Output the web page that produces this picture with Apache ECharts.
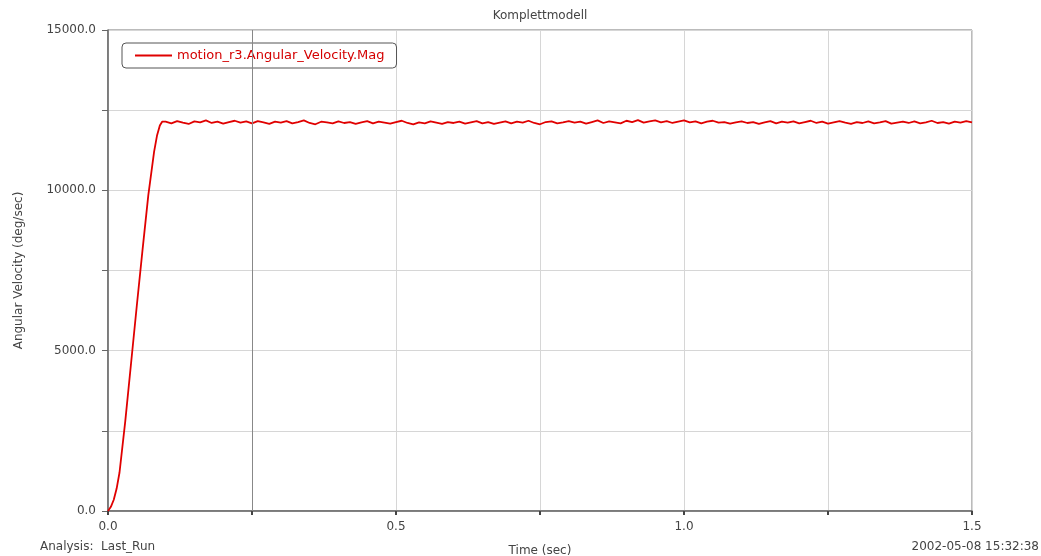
<!DOCTYPE html>
<html>
<head>
<meta charset="utf-8">
<script src="https://cdn.jsdelivr.net/npm/echarts@6/dist/echarts.min.js"></script>
<style>
  html, body { margin: 0; padding: 0; background: #fff; }
  #chart { width: 1041px; height: 556px; }
</style>
</head>
<body>
<div id="chart"></div>
<script>
// ramp-up part
const rampTimes = [0, 0.005, 0.01, 0.015, 0.02, 0.03, 0.04, 0.05, 0.06, 0.07, 0.08, 0.085, 0.09, 0.094];
const rampValues = [0, 130, 350, 700, 1200, 2800, 4600, 6400, 8150, 9850, 11200, 11700, 12020, 12140];

// steady part, one sample every 0.01 s from 0.10 to 1.50
const flatStart = 0.10;
const flatStep = 0.01;
const flatValues = [
  12140, 12090, 12160, 12110, 12070, 12150, 12120, 12180, 12100, 12140,
  12080, 12130, 12170, 12110, 12150, 12090, 12160, 12120, 12070, 12140,
  12110, 12160, 12090, 12130, 12180, 12100, 12060, 12140, 12120, 12090,
  12150, 12100, 12130, 12070, 12120, 12160, 12090, 12140, 12110, 12080,
  12130, 12170, 12100, 12060, 12120, 12090, 12150, 12110, 12070, 12130,
  12100, 12140, 12080, 12120, 12160, 12090, 12130, 12070, 12110, 12150,
  12090, 12140, 12110, 12170, 12100, 12060, 12130, 12150, 12090, 12120,
  12160, 12110, 12140, 12080, 12130, 12180, 12100, 12150, 12120, 12090,
  12170, 12130, 12190, 12110, 12150, 12180, 12120, 12160, 12100, 12140,
  12180, 12120, 12150, 12090, 12140, 12170, 12110, 12130, 12080, 12120,
  12150, 12100, 12130, 12070, 12120, 12160, 12090, 12140, 12110, 12150,
  12090, 12130, 12170, 12100, 12140, 12080, 12120, 12160, 12110, 12070,
  12130, 12100, 12150, 12090, 12120, 12160, 12080, 12110, 12140, 12100,
  12150, 12090, 12120, 12170, 12100, 12130, 12080, 12140, 12110, 12160,
  12120
];

const seriesName = 'motion_r3.Angular_Velocity.Mag';
const xTicks = [0, 0.5, 1.0, 1.5];
const yTicks = [0, 5000, 10000, 15000];
const darkGridX = [0.25];

const points = rampTimes.map((t, i) => [t, rampValues[i]]);
flatValues.forEach((v, i) => {
  points.push([+(flatStart + i * flatStep).toFixed(2), v]);
});

const font = 'DejaVu Sans, Liberation Sans, sans-serif';
const textGray = '#444';
const red = '#e00000';

const chart = echarts.init(document.getElementById('chart'));
chart.setOption({
  animation: false,
  backgroundColor: '#fff',
  grid: {
    left: 108, right: 69, top: 30, bottom: 45,
    outerBoundsMode: 'none', containLabel: false,
    show: true, borderColor: '#777', borderWidth: 1
  },
  legend: {
    data: [{ name: seriesName, icon: 'rect' }],
    left: 122, top: 43,
    padding: [6, 12, 6, 13],
    borderColor: '#555', borderWidth: 1, borderRadius: 4,
    itemWidth: 37, itemHeight: 2,
    textStyle: { color: '#d40000', fontSize: 13, fontFamily: font }
  },
  graphic: [
    { type: 'text', x: 540, y: 10, style: { text: 'Komplettmodell', fill: textGray, font: '12px ' + font, textAlign: 'center' } },
    { type: 'text', left: 40, top: 541, style: { text: 'Analysis:  Last_Run', fill: textGray, font: '12px ' + font } },
    { type: 'text', right: 2, top: 541, style: { text: '2002-05-08 15:32:38', fill: textGray, font: '12px ' + font } }
  ],
  xAxis: {
    type: 'value', min: 0, max: 1.5, interval: 0.25,
    name: 'Time (sec)', nameLocation: 'middle', nameGap: 34,
    nameTextStyle: { color: textGray, fontSize: 12, fontFamily: font },
    axisLine: { lineStyle: { color: '#666', width: 1.5 } },
    axisTick: { show: true, length: 4, lineStyle: { color: '#444', width: 2 } },
    axisLabel: {
      color: textGray, fontSize: 12, fontFamily: font, margin: 10,
      formatter: v => xTicks.some(t => Math.abs(t - v) < 1e-9) ? v.toFixed(1) : ''
    },
    splitLine: { show: true, lineStyle: { color: '#d6d6d6', width: 1 } }
  },
  yAxis: {
    type: 'value', min: 0, max: 15000, interval: 2500,
    name: 'Angular Velocity (deg/sec)', nameLocation: 'middle', nameGap: 83,
    nameTextStyle: { color: textGray, fontSize: 12, fontFamily: font },
    axisLine: { show: true, lineStyle: { color: '#666', width: 1.5 } },
    axisTick: { show: true, length: 6, lineStyle: { color: '#666' } },
    axisLabel: {
      color: textGray, fontSize: 12, fontFamily: font, margin: 12,
      formatter: v => yTicks.includes(v) ? v.toFixed(1) : ''
    },
    splitLine: { show: true, lineStyle: { color: '#d6d6d6', width: 1 } }
  },
  series: [{
    name: seriesName,
    type: 'line',
    data: points,
    symbol: 'none',
    z: 3,
    lineStyle: { color: red, width: 1.8 },
    itemStyle: { color: red },
    markLine: {
      silent: true, symbol: 'none', label: { show: false },
      lineStyle: { color: '#888', type: 'solid', width: 1 },
      data: darkGridX.map(x => ({ xAxis: x }))
    }
  }]
});
</script>
</body>
</html>
